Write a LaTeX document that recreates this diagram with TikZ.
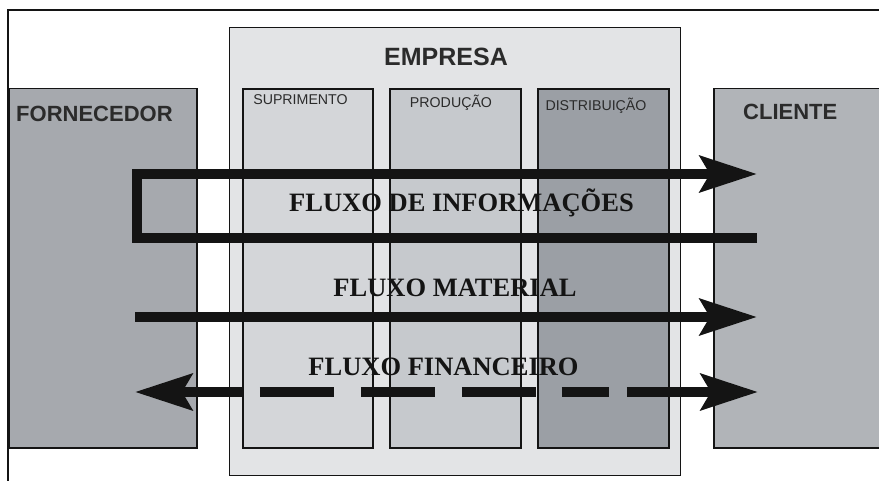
\documentclass[tikz,border=0pt]{standalone}
\usepackage{fontspec}
\setmainfont{Liberation Serif}
\setsansfont{Liberation Sans}
\usetikzlibrary{positioning,calc,arrows.meta}
\definecolor{ink}{HTML}{141414}
\definecolor{txt}{HTML}{2B2B2B}
\definecolor{empfill}{HTML}{E3E4E6}
\definecolor{fornfill}{HTML}{A6A9AE}
\definecolor{clifill}{HTML}{B1B4B8}
\definecolor{supfill}{HTML}{D4D6D9}
\definecolor{prodfill}{HTML}{C6C9CD}
\definecolor{distfill}{HTML}{9B9FA5}

\begin{document}
\begin{tikzpicture}[
      x=1pt, y=-1pt,
      box/.style={draw=ink, anchor=north west, inner sep=0pt, line width=1.5pt},
      dept/.style={box, line width=2pt, minimum width=130pt, minimum height=359pt},
      title/.style={font=\sffamily\bfseries, text=txt, inner sep=0pt},
      small/.style={font=\sffamily\fontsize{14.2}{15}\selectfont, text=txt, inner sep=0pt, anchor=base},
      flowlabel/.style={font=\bfseries\fontsize{26.5}{27}\selectfont, text=ink, inner sep=0pt, anchor=base},
      flow/.style={draw=ink, line width=10pt, line join=miter},
      >={Stealth[length=57pt, width=36pt, inset=10pt]}
    ]
    \useasboundingbox (0,0) rectangle (879,481);

    % Frame
    \draw[ink, line width=1.5pt] (8,481) -- (8,10) -- (879,10);

    % Boxes
    \node[box, fill=empfill, line width=1pt, minimum width=451pt, minimum height=448pt] (emp) at (229,27) {};
    \node[box, fill=fornfill, minimum width=188pt, minimum height=359pt] (forn) at (8,88) {};
    \node[box, fill=clifill, minimum width=190pt, minimum height=359pt] (cli) at (713,88) {};
    \node[dept, fill=supfill] (sup) at (242,88) {};
    \node[dept, fill=prodfill, minimum width=131pt] (prod) at (389,88) {};
    \node[dept, fill=distfill, minimum width=131pt] (dist) at (537,88) {};

    % Box titles
    \node[title, font=\sffamily\bfseries\fontsize{25}{26}\selectfont, anchor=base] (emp-t) at (446,66) {EMPRESA};
    \node[title, font=\sffamily\bfseries\fontsize{22}{23}\selectfont, anchor=base west] (forn-t) at (16,122) {FORNECEDOR};
    \node[title, font=\sffamily\bfseries\fontsize{22}{23}\selectfont, anchor=base west] (cli-t) at (743,120) {CLIENTE};
    \node[small] (sup-t) at (300.5,105) {SUPRIMENTO};
    \node[small] (prod-t) at (451,108) {PRODUÇÃO};
    \node[small] (dist-t) at (596,111) {DISTRIBUIÇÃO};

    % Flow ends
    \coordinate (info-s) at (757,238);
    \coordinate (info-l) at (137,206);
    \coordinate (info-e) at (757,174);
    \coordinate (mat-l) at (135,317);
    \coordinate (mat-r) at (757,317);
    \coordinate (fin-l) at (135,392);
    \coordinate (fin-r) at (758,392);

    % Arrows
    \draw[flow, ->] (info-s) -| (info-l) |- (info-e);
    \draw[flow, ->] (mat-l) -- (mat-r);
    \draw[flow, <->, dash pattern={on 63pt off 18pt on 74pt off 27pt on 74pt off 27pt on 74pt off 26pt on 47pt off 18pt on 300pt}] (fin-l) -- (fin-r);

    % Flow labels
    \node[flowlabel] (info-t) at (461.5,212) {FLUXO DE INFORMAÇÕES};
    \node[flowlabel] (mat-t) at (455,297) {FLUXO MATERIAL};
    \node[flowlabel] (fin-t) at (443.5,375) {FLUXO FINANCEIRO};

  \end{tikzpicture}
\end{document}
